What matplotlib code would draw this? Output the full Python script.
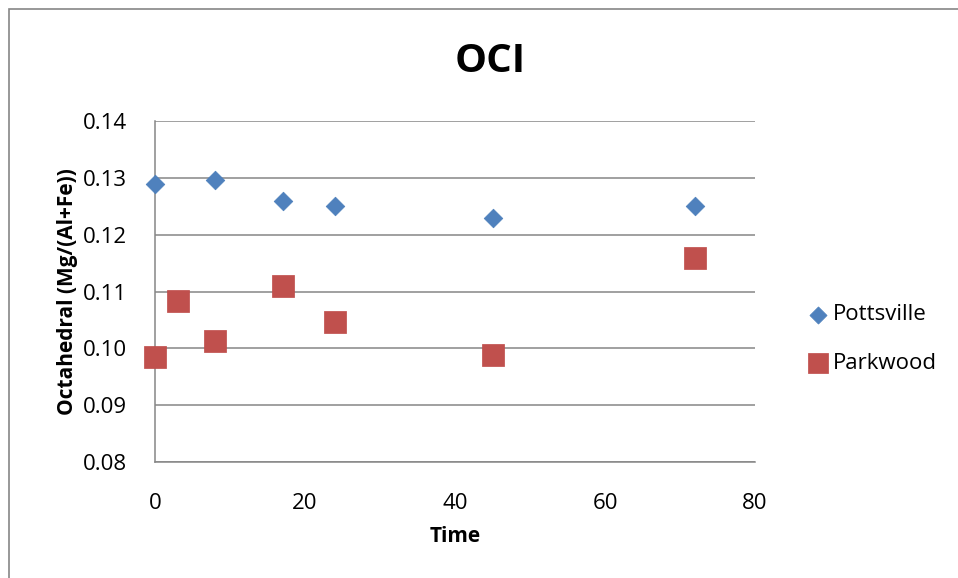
import matplotlib
matplotlib.use("Agg")
import matplotlib.pyplot as plt
from matplotlib.patches import Rectangle

plt.rcParams['font.family'] = ['Open Sans', 'DejaVu Sans']

# data
pott_time = [0, 8, 17, 24, 45, 72]
pott_oci = [0.1289, 0.1296, 0.1259, 0.1251, 0.1229, 0.1250]
park_time = [0, 3, 8, 17, 24, 45, 72]
park_oci = [0.0985, 0.1083, 0.1013, 0.1110, 0.1046, 0.0988, 0.1159]
yticks = [0.08, 0.09, 0.10, 0.11, 0.12, 0.13, 0.14]
xticks = [0, 20, 40, 60, 80]

fig = plt.figure(figsize=(9.58, 5.78), dpi=100)
# outer chart frame (Excel-like)
fig.patches.append(Rectangle((9/958, -0.1), 1.2, 1 - 9/578 + 0.1,
                             transform=fig.transFigure, fill=False,
                             edgecolor='#868686', linewidth=1.2))

ax = fig.add_axes([155/958, 1 - 462/578, 600/958, 341/578])

ax.scatter(pott_time, pott_oci, marker='D', s=90, color='#4F81BD',
           edgecolor='#4A7EBB', linewidth=0.5, label='Pottsville', zorder=3,
           clip_on=False)
ax.scatter(park_time, park_oci, marker='s', s=260, color='#C0504D',
           edgecolor='#BE4B48', linewidth=0.5, label='Parkwood', zorder=3,
           clip_on=False)

ax.set_xlim(0, 80)
ax.set_ylim(0.08, 0.14)
ax.set_xticks(xticks)
ax.set_yticks(yticks)
ax.set_yticklabels([f"{v:.2f}" for v in yticks])
ax.grid(axis='y', color='#868686', linewidth=1.1)
ax.set_axisbelow(True)
for s in ['top', 'right']:
    ax.spines[s].set_visible(False)
for s in ['left', 'bottom']:
    ax.spines[s].set_color('#868686')
    ax.spines[s].set_linewidth(1.1)
ax.tick_params(length=0, labelsize=16, pad=20)
ax.tick_params(axis='x', pad=22)

ax.set_xlabel('Time', fontsize=15, fontweight='bold', labelpad=9)
ax.set_ylabel('Octahedral (Mg/(Al+Fe))', fontsize=15, fontweight='bold', labelpad=4)
fig.text(490/958, 1 - 62/578, 'OCI', fontsize=29, fontweight='bold',
         ha='center', va='center')

ax.legend(loc='center left', bbox_to_anchor=(1.05, 0.36), frameon=False,
          fontsize=16, handletextpad=0.05, labelspacing=1.25, markerscale=0.92,
          handlelength=1.2)

fig.savefig('out.png', dpi=100)
